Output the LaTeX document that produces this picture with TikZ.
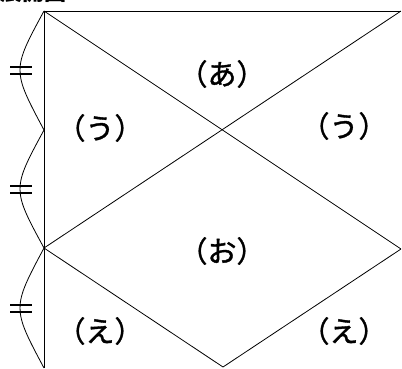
\documentclass[tikz,border=0pt]{standalone}
\usepackage{fontspec}
\newfontfamily\jp{Noto Sans CJK JP}[FakeBold=1.2]
\newfontfamily\jpt{Noto Sans CJK JP}
\begin{document}
\begin{tikzpicture}[x=1pt,y=-1pt,
  edge/.style={line width=0.8pt,black},
  lbl/.style={font=\jp\fontsize{29}{29}\selectfont,inner sep=0pt},
  tick/.style={line width=2pt}]
\useasboundingbox (0,0) rectangle (402,368);
\clip (0,0) rectangle (402,368);
% title fragment
\node[font=\jpt\bfseries\fontsize{22}{22}\selectfont,anchor=base west,inner sep=0pt] (title) at (0,0) {展開図};
% points
\coordinate (A) at (44,11);
\coordinate (T) at (401,11);
\coordinate (M) at (44,130);
\coordinate (B) at (44,248);
\coordinate (R) at (401,249);
\coordinate (V) at (223,367);
\coordinate (Z) at (44,368);
% main lines
\draw[edge] (A) -- (Z);
\draw[edge] (A) -- (T);
\draw[edge] (T) -- (B);
\draw[edge] (A) -- (R);
\draw[edge] (B) -- (V) -- (R);
% arcs
\draw[edge] (A) .. controls (12,70) .. (M);
\draw[edge] (M) .. controls (12,189) .. (B);
\draw[edge] (B) .. controls (12,308) .. (Z);
% equal marks
\foreach \y in {70,189,308}{
  \draw[tick] (10,\y-3.5) -- (32,\y-3.5);
  \draw[tick] (10,\y+3.5) -- (32,\y+3.5);
}
% labels
\node[lbl] (a) at (222,74) {（あ）};
\node[lbl] (u1) at (100,128) {（う）};
\node[lbl] (u2) at (344,126) {（う）};
\node[lbl] (o) at (222,251) {（お）};
\node[lbl] (e1) at (100,331) {（え）};
\node[lbl] (e2) at (344,331) {（え）};
\end{tikzpicture}
\end{document}
